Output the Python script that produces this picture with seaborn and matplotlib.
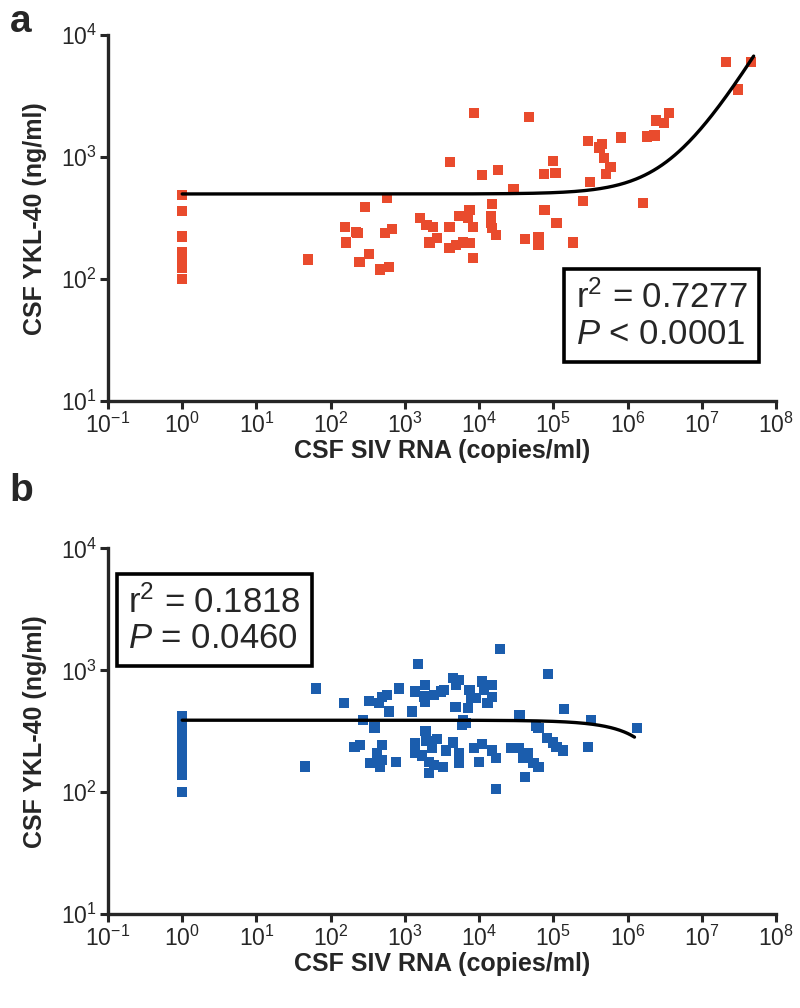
import numpy as np
import pandas as pd
import matplotlib
matplotlib.use("Agg")
import matplotlib.pyplot as plt
import seaborn as sns

# ===== Panel a data (CSF SIV RNA vs CSF YKL-40) =====
rna_a = [1, 1, 1, 1, 1, 1, 1,
         8500, 46800, 3.6e6, 2.4e6, 3.1e6, 1.85e6, 2.3e6, 8.1e5, 2.9e5, 4.5e5,
         4.2e5, 4.8e5, 5.9e5, 5.1e5, 3.1e5, 1e5, 7.4e4, 1.07e5, 4100, 1.1e4,
         1.8e4, 2.9e4, 575, 290, 2.5e5, 1.6e6, 7.6e4, 1.1e5, 1.85e5, 4.2e4,
         6.3e4, 6.3e4, 1.5e4, 1.45e4, 1.45e4, 1.5e4, 1.7e4, 7400, 5400, 7100,
         8300, 1600, 1950, 2400, 4000, 230, 540, 670, 2700, 2150, 4000, 4900,
         6100, 7400, 8300, 330, 245, 465, 615, 155, 220, 160, 50,
         2.1e7, 4.6e7, 3.1e7]
ykl_a = [490, 363, 224, 166, 145, 123, 100,
         2300, 2130, 2300, 2000, 1900, 1480, 1510, 1450, 1350, 1290,
         1200, 980, 830, 730, 630, 930, 730, 740, 910, 710,
         790, 550, 460, 390, 440, 420, 370, 290, 200, 215,
         220, 190, 415, 330, 290, 262, 230, 370, 330, 320,
         270, 316, 277, 270, 270, 240, 240, 258, 218, 200, 180, 190,
         200, 198, 150, 162, 138, 120, 125, 270, 245, 200, 145,
         6000, 6000, 3600]

# ===== Panel b data =====
rna_b = [1] * 15 + [
    63, 150, 330, 270, 390, 210, 250, 45, 340,
    1.9e4, 1500, 8.5e4, 830, 490, 575, 450, 610, 1360, 1850, 1800, 1850,
    2450, 3100, 3400, 4500, 5400, 4900, 7400, 7800, 1.1e4, 1.5e4, 1.17e4,
    9100, 1.3e4, 1.5e4, 1240, 4800, 7100, 6100, 5900, 6700, 3.5e4, 1.4e5,
    3.2e5, 5.8e4, 6.3e4, 1.35e6, 1900, 490, 425, 360, 490, 465, 760, 1360,
    1360, 1700, 1950, 2700, 2300, 3600, 4500, 2100, 2450, 2100, 3300, 5400,
    5400, 8600, 1.1e4, 1.5e4, 1.7e4, 1e4, 2.7e4, 3.4e4, 3.9e4, 4.6e4, 5.4e4,
    6.3e4, 4.2e4, 1.7e4, 8.3e4, 9.8e4, 1.1e5, 1.35e5, 2.9e5]
ykl_b = [420, 390, 360, 330, 305, 280, 260, 240, 220, 200, 185, 170, 155, 140, 100] + [
    710, 537, 560, 390, 340, 234, 244, 163, 173,
    1500, 1120, 930, 710, 600, 630, 540, 460, 670, 760, 610, 550,
    630, 670, 690, 860, 830, 760, 690, 590, 810, 760, 690,
    590, 540, 600, 460, 500, 490, 390, 355, 370, 430, 480,
    390, 350, 335, 335, 320, 244, 210, 175, 185, 160, 178, 252,
    210, 200, 265, 275, 233, 220, 256, 178, 168, 144, 160, 210,
    175, 230, 250, 220, 190, 178, 230, 230, 190, 210, 175,
    160, 133, 107, 280, 256, 234, 220, 234]

# fitted linear regression lines (intercept, slope, x range)
fit_a = (500, 1.25e-4, 1, 5e7)
fit_b = (390, -8.6e-5, 1, 1.24e6)
stats_a = ["r$^2$ = 0.7277", "$\\it{P}$ < 0.0001"]
stats_b = ["r$^2$ = 0.1818", "$\\it{P}$ = 0.0460"]

red = "#E94B2D"
blue = "#1B5DAD"

sns.set_style("ticks")
plt.rcParams["font.family"] = ["Liberation Sans", "DejaVu Sans"]
plt.rcParams["mathtext.fontset"] = "custom"
plt.rcParams["mathtext.rm"] = "Liberation Sans"
plt.rcParams["mathtext.it"] = "Liberation Sans:italic"
plt.rcParams["mathtext.bf"] = "Liberation Sans:bold"

fig = plt.figure(figsize=(8, 10.08), dpi=100)
ax_a = fig.add_axes([0.135, 0.602, 0.835, 0.363])
ax_b = fig.add_axes([0.135, 0.093, 0.835, 0.363])


def draw_panel(ax, x, y, color, fit, stats, box_xy, letter, letter_y):
    df = pd.DataFrame({"rna": x, "ykl": y})
    sns.scatterplot(data=df, x="rna", y="ykl", ax=ax, marker="s", s=54,
                    color=color, edgecolor="none", zorder=2)
    a, b, x0, x1 = fit
    xs = np.logspace(np.log10(x0), np.log10(x1), 400)
    ax.plot(xs, a + b * xs, color="black", lw=2.4, zorder=3)
    ax.set_xscale("log")
    ax.set_yscale("log")
    ax.set_xlim(0.1, 1e8)
    ax.set_ylim(10, 1e4)
    ax.set_xticks([10.0 ** k for k in range(-1, 9)])
    ax.set_yticks([10.0 ** k for k in range(1, 5)])
    ax.minorticks_off()
    ax.tick_params(axis="both", labelsize=16.5, width=2.2, length=6, pad=2)
    for sp in ["left", "bottom"]:
        ax.spines[sp].set_linewidth(2.4)
    sns.despine(ax=ax)
    ax.set_xlabel("CSF SIV RNA (copies/ml)", fontsize=18, fontweight="bold", labelpad=1)
    ax.set_ylabel("CSF YKL-40 (ng/ml)", fontsize=18, fontweight="bold", labelpad=10)
    ax.text(box_xy[0], box_xy[1], "\n".join(stats), transform=ax.transAxes,
            fontsize=25, va="top", ha="left", linespacing=1.1,
            bbox=dict(boxstyle="square,pad=0.32", fc="white", ec="black", lw=2.6))
    fig.text(0.012, letter_y, letter, fontsize=28, fontweight="bold", va="center")


draw_panel(ax_a, rna_a, ykl_a, red, fit_a, stats_a, (0.7, 0.33), "a", 0.978)
draw_panel(ax_b, rna_b, ykl_b, blue, fit_b, stats_b, (0.03, 0.9), "b", 0.513)

fig.savefig("out.png", dpi=100)
